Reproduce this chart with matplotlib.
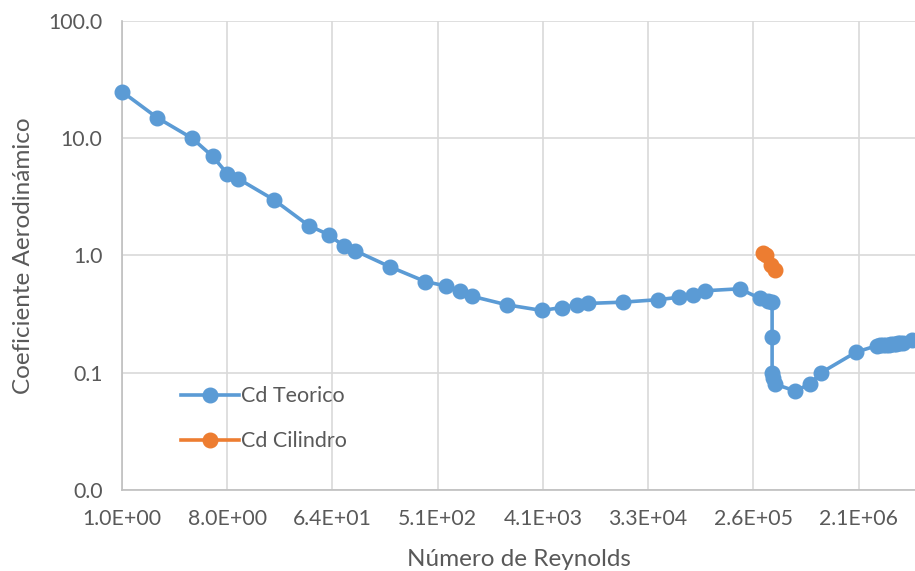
import matplotlib
matplotlib.use("Agg")
import matplotlib.pyplot as plt
from matplotlib.ticker import FixedLocator, FuncFormatter, NullLocator

# Cd teorico vs Reynolds (log-log)
re_teorico = [1, 2, 4, 6, 8, 10, 20, 40, 60, 80, 100, 200, 400, 600, 800, 1000,
              2000, 4000, 6000, 8000, 10000, 20000, 40000, 60000, 80000, 100000,
              200000, 300000, 350000, 380000, 380000, 380000, 390000, 400000,
              600000, 800000, 1000000, 2000000,
              3000000, 3200000, 3400000, 3600000, 3800000, 4000000, 4200000,
              4400000, 4600000, 4800000, 5000000, 6000000]
cd_teorico = [25, 15, 10, 7, 5, 4.5, 3, 1.8, 1.5, 1.2, 1.1, 0.8, 0.6, 0.55, 0.5, 0.45,
              0.38, 0.34, 0.36, 0.38, 0.39, 0.40, 0.42, 0.44, 0.46, 0.50,
              0.52, 0.43, 0.41, 0.40, 0.2, 0.1, 0.09, 0.08,
              0.07, 0.08, 0.1, 0.15,
              0.17, 0.171, 0.172, 0.173, 0.174, 0.175, 0.176,
              0.177, 0.178, 0.179, 0.18, 0.19]

re_cilindro = [320000, 340000, 370000, 400000]
cd_cilindro = [1.05, 1.0, 0.83, 0.75]

x_ticks = [8 ** k for k in range(8)]
y_ticks = [0.01, 0.1, 1, 10, 100]

BLUE = "#5B9BD5"
ORANGE = "#ED7D31"
TEXT = "#595959"
GRID = "#D9D9D9"

plt.rcParams["font.family"] = ["Lato", "DejaVu Sans"]

fig = plt.figure(figsize=(9.15, 5.71), dpi=100)
ax = fig.add_axes([0.1333, 0.1419, 0.8667, 0.8213])

ax.plot(re_teorico, cd_teorico, color=BLUE, lw=2.6, marker="o", ms=10.5,
        label="Cd Teorico", zorder=3, clip_on=False)
ax.plot(re_cilindro, cd_cilindro, color=ORANGE, lw=2.6, marker="o", ms=10.5,
        label="Cd Cilindro", zorder=4)

ax.set_xscale("log")
ax.set_yscale("log")
ax.set_xlim(1, 6.4e6)
ax.set_ylim(0.01, 100)

ax.xaxis.set_major_locator(FixedLocator(x_ticks))
ax.xaxis.set_minor_locator(NullLocator())
ax.xaxis.set_major_formatter(FuncFormatter(lambda v, p: f"{v:.1E}"))
ax.yaxis.set_major_locator(FixedLocator(y_ticks))
ax.yaxis.set_minor_locator(NullLocator())
ax.yaxis.set_major_formatter(FuncFormatter(lambda v, p: f"{v:.1f}"))

ax.grid(True, color=GRID, lw=1.2)
ax.set_axisbelow(True)
for s in ["top", "right"]:
    ax.spines[s].set_visible(False)
for s in ["left", "bottom"]:
    ax.spines[s].set_color("#BFBFBF")
    ax.spines[s].set_linewidth(1.2)

ax.tick_params(length=0, labelsize=15.3, colors=TEXT)
ax.tick_params(axis="x", pad=14)
ax.tick_params(axis="y", pad=14)
ax.set_xlabel("Número de Reynolds", fontsize=17.5, color=TEXT, labelpad=14)
ax.set_ylabel("Coeficiente Aerodinámico", fontsize=17.5, color=TEXT, labelpad=10)

leg = ax.legend(loc="upper left", bbox_to_anchor=(0.05, 0.262), frameon=False,
                fontsize=15.5, labelspacing=1.15, handlelength=2.7,
                handletextpad=0.1, borderaxespad=0.5)
for t in leg.get_texts():
    t.set_color(TEXT)

fig.savefig("out.png", dpi=100)
